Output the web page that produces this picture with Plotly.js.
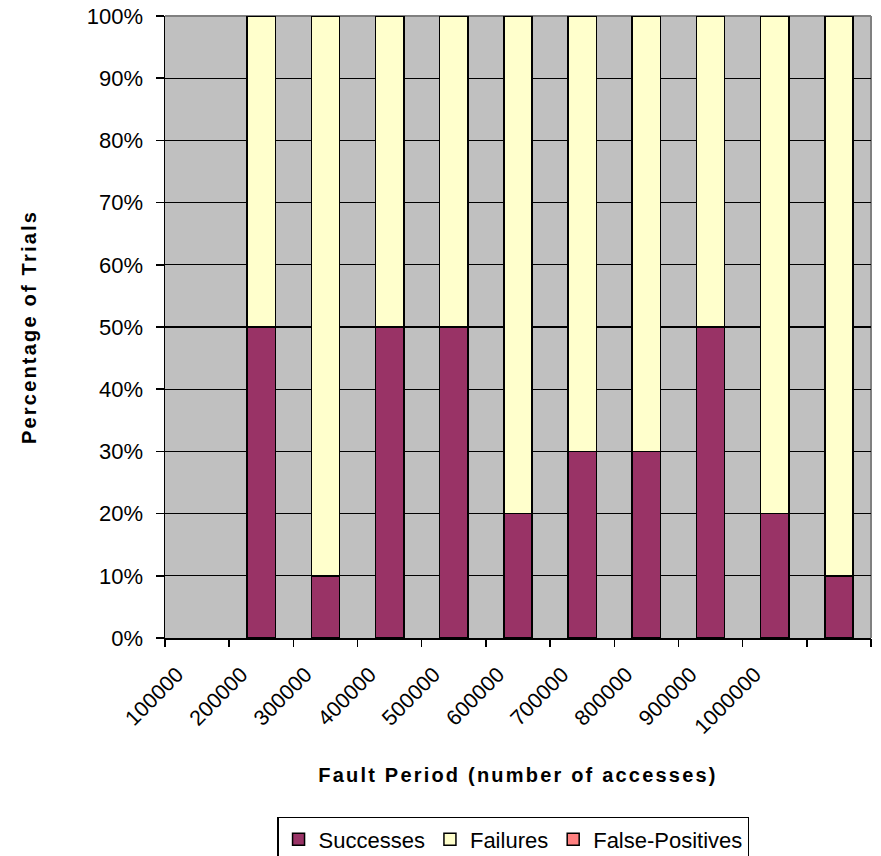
<!DOCTYPE html>
<html><head><meta charset="utf-8">
<script src="https://cdn.plot.ly/plotly-3.0.1.min.js"></script>
<style>
html,body{margin:0;padding:0;background:#fff;}
#chart{width:881px;height:856px;}
.xtitle,.ytitle{letter-spacing:2.2px;}
</style></head><body><div id="chart"></div>
<script>
// Data
const periods = ['100000','200000','300000','400000','500000','600000','700000','800000','900000','1000000'];
const successes      = [50, 10, 50, 50, 20, 30, 30, 50, 20, 10];
const failures       = [50, 90, 50, 50, 80, 70, 70, 50, 80, 90];
const falsePositives = [ 0,  0,  0,  0,  0,  0,  0,  0,  0,  0];
const seriesNames  = ['Successes', 'Failures', 'False-Positives'];
const seriesColors = ['#993366', '#FFFFCC', '#FF8080'];
const yTickVals = [0, 10, 20, 30, 40, 50, 60, 70, 80, 90, 100];
const yTickText = yTickVals.map(v => v + '%');

// Category slots: one empty slot before the first bar (as in the source chart)
const nSlots = periods.length + 1;
const barPos = periods.map((p, i) => i + 1.5);
const labelPos = periods.map((p, i) => i + 0.19);
const boundaries = Array.from({length: nSlots + 1}, (_, i) => i);

const FONT = '"Liberation Sans", Arial, sans-serif';
const seriesValues = [successes, failures, falsePositives];

const traces = seriesValues.map((vals, k) => ({
  type: 'bar',
  name: seriesNames[k],
  x: barPos,
  y: vals,
  marker: {color: seriesColors[k], line: {color: '#000000', width: 1.5}},
  hoverinfo: 'skip'
}));
traces.push({type: 'scatter', x: [], y: [], xaxis: 'x2', yaxis: 'y', showlegend: false, hoverinfo: 'skip'});

const layout = {
  width: 881, height: 856,
  margin: {l: 165, r: 10, t: 16, b: 218, pad: 0},
  paper_bgcolor: '#FFFFFF',
  plot_bgcolor: '#C0C0C0',
  barmode: 'stack',
  bargap: 0.56,
  font: {family: FONT, size: 22, color: '#000000'},
  showlegend: true,
  legend: {
    orientation: 'h', xref: 'paper', x: 0.493, xanchor: 'center',
    yref: 'container', y: 0.0456, yanchor: 'top',
    bordercolor: '#000000', borderwidth: 1.5, bgcolor: '#FFFFFF',
    font: {family: FONT, size: 22, color: '#000000'},
    traceorder: 'normal', itemclick: false
  },
  xaxis: {
    range: [0, nSlots],
    tickmode: 'array', tickvals: labelPos, ticktext: periods,
    tickangle: -45, ticks: '', showgrid: false, zeroline: false,
    ticklabelstandoff: 14,
    showline: true, linecolor: '#000000', linewidth: 1.5,
    tickfont: {family: FONT, size: 21.5, color: '#000000'},
    title: {text: 'Fault Period (number of accesses)', standoff: 30,
            font: {family: FONT, size: 20, color: '#000000', weight: 'bold'}},
    automargin: false, fixedrange: true
  },
  xaxis2: {
    overlaying: 'x', side: 'bottom', anchor: 'y',
    range: [0, nSlots],
    tickmode: 'array', tickvals: boundaries, showticklabels: false,
    ticks: 'outside', ticklen: 8, tickwidth: 1.5, tickcolor: '#000000',
    showgrid: false, zeroline: false, showline: false, fixedrange: true
  },
  yaxis: {
    range: [0, 100],
    tickmode: 'array', tickvals: yTickVals, ticktext: yTickText,
    ticks: 'outside', ticklen: 8, tickwidth: 1.5, tickcolor: '#000000',
    ticklabelstandoff: 8,
    showgrid: true, gridcolor: '#000000', gridwidth: 1.2,
    zeroline: false, showline: true, linecolor: '#000000', linewidth: 1.5,
    tickfont: {family: FONT, size: 22, color: '#000000'},
    title: {text: 'Percentage of Trials', standoff: 45,
            font: {family: FONT, size: 20, color: '#000000', weight: 'bold'}},
    automargin: false, fixedrange: true
  },
  shapes: [
    {type: 'line', xref: 'paper', yref: 'paper', x0: 0, x1: 1, y0: 1, y1: 1,
     line: {color: '#808080', width: 2}, layer: 'between'},
    {type: 'line', xref: 'paper', yref: 'paper', x0: 1, x1: 1, y0: 0, y1: 1,
     line: {color: '#808080', width: 2}, layer: 'between'}
  ]
};

Plotly.newPlot('chart', traces, layout, {displayModeBar: false, staticPlot: true});
</script></body></html>
